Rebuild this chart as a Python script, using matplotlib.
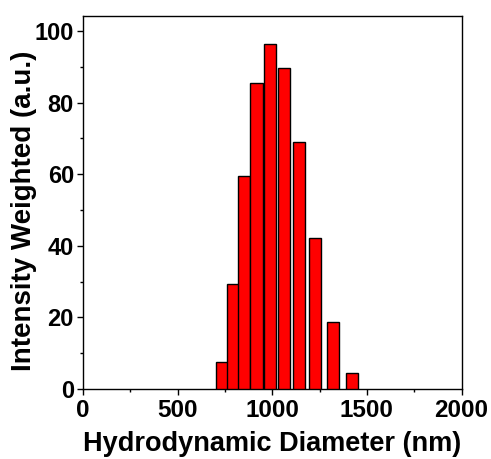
import matplotlib
matplotlib.use("Agg")
import matplotlib.pyplot as plt
import matplotlib.patheffects as pe
from matplotlib.ticker import MultipleLocator

diameters = [736, 791, 853, 917, 986, 1062, 1139, 1226, 1321, 1420]
intensity = [7.6, 29.4, 59.5, 85.4, 96.3, 89.6, 68.9, 42.1, 18.6, 4.4]
bar_width = 64

plt.rcParams['font.family'] = ['Liberation Sans', 'DejaVu Sans']
plt.rcParams['font.weight'] = 'bold'

fig = plt.figure(figsize=(4.91, 4.59), dpi=100)
ax = fig.add_axes([0.169, 0.1525, 0.771, 0.8125])

bars = ax.bar(diameters, intensity, width=bar_width, color='#ff0000',
              edgecolor='black', linewidth=1.0, zorder=3)
for b in bars:
    b.set_path_effects([pe.SimplePatchShadow(offset=(1, -1), shadow_rgbFace='gray', alpha=0.6),
                        pe.Normal()])

ax.set_xlim(0, 2000)
ax.set_ylim(0, 104.2)
ax.xaxis.set_major_locator(MultipleLocator(500))
ax.xaxis.set_minor_locator(MultipleLocator(250))
ax.yaxis.set_major_locator(MultipleLocator(20))
ax.yaxis.set_minor_locator(MultipleLocator(10))
ax.tick_params(which='major', direction='out', length=4.5, width=1, pad=2)
ax.tick_params(which='minor', direction='out', length=2.5, width=1)
ax.tick_params(axis='x', which='major', labelsize=17.5, pad=3)
ax.tick_params(axis='y', which='major', labelsize=17, pad=2)
ax.tick_params(top=False, right=False)
for lab in ax.get_xticklabels() + ax.get_yticklabels():
    lab.set_fontweight('bold')
for s in ax.spines.values():
    s.set_linewidth(1.0)
    s.set_color('black')

ax.set_xlabel('Hydrodynamic Diameter (nm)', fontsize=19.5, fontweight='bold', labelpad=6)
ax.set_ylabel('Intensity Weighted (a.u.)', fontsize=20, fontweight='bold', labelpad=-2)
ax.yaxis.label.set_y(0.478)

fig.savefig('out.png', dpi=100)
